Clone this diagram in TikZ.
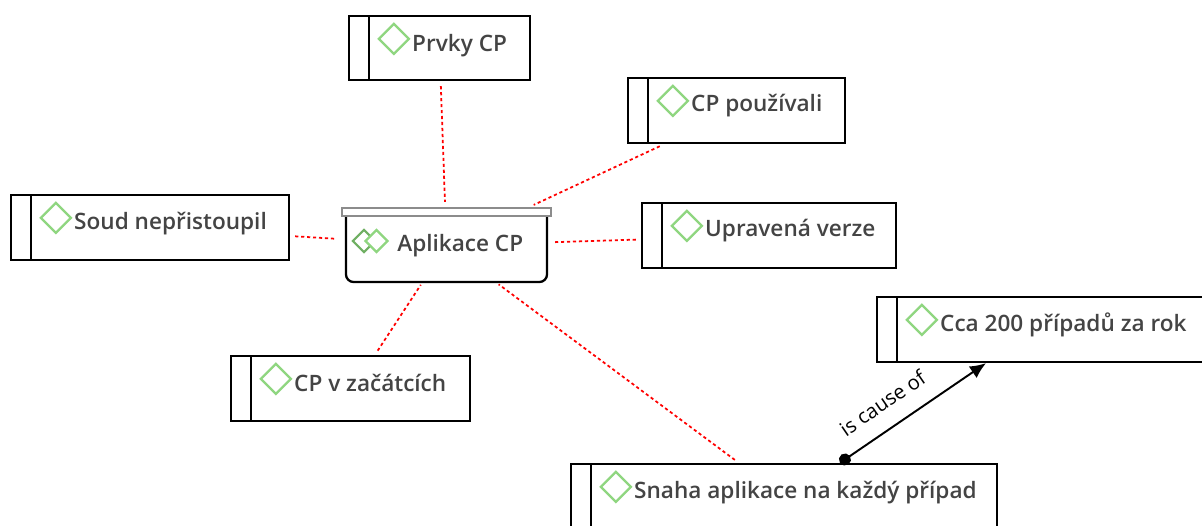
\documentclass[tikz,border=0pt]{standalone}
\usepackage{fontspec}
\setmainfont{Open Sans}
\newfontfamily\conceptfont{Open Sans Semibold}
\usetikzlibrary{arrows.meta,shapes.geometric}

\definecolor{markgreen}{HTML}{8FD680}
\definecolor{markdark}{HTML}{6FAF62}
\definecolor{labelgray}{HTML}{444444}

\tikzset{
  conceptbox/.style={draw=black, line width=1.3pt, fill=white, minimum height=1.3cm, inner sep=0pt,
    path picture={\draw [line width=1.3pt] ([xshift=0.4cm]path picture bounding box.north west) -- ([xshift=0.4cm]path picture bounding box.south west);}},
  conceptmark/.style={diamond, draw=markgreen, line width=1.3pt, fill=white, minimum size=0.62cm, inner sep=0pt},
  conceptlabel/.style={anchor=base west, inner sep=0pt, text=labelgray, font=\fontsize{12.85}{16}\conceptfont},
  linkline/.style={draw=red, line width=1pt, dash pattern=on 1.8pt off 1.6pt, shorten <=0.1cm, shorten >=0.1cm}
}

\begin{document}
\begin{tikzpicture}
\path [use as bounding box, clip] (0,0) rectangle (24.04,10.5);

\node[conceptbox, minimum width=3.62cm, minimum height=1.28cm] (prvky) at (8.79, 9.54) {};
\node[conceptmark] (prvkymark) at ([shift={(0.92,-0.48)}]prvky.north west) {};
\node[conceptlabel] (prvkytext) at ([shift={(1.28,-0.74)}]prvky.north west) {Prvky CP};

\node[conceptbox, minimum width=4.34cm] (pouzivali) at (14.73, 8.29) {};
\node[conceptmark] (pouzivalimark) at ([shift={(0.92,-0.48)}]pouzivali.north west) {};
\node[conceptlabel] (pouzivalitext) at ([shift={(1.28,-0.69)}]pouzivali.north west) {CP používali};

\node[conceptbox, minimum width=5.56cm] (soud) at (3.00, 5.95) {};
\node[conceptmark] (soudmark) at ([shift={(0.92,-0.48)}]soud.north west) {};
\node[conceptlabel] (soudtext) at ([shift={(1.28,-0.71)}]soud.north west) {Soud nepřistoupil};

\node[conceptbox, minimum width=5.08cm] (upravena) at (15.38, 5.79) {};
\node[conceptmark] (upravenamark) at ([shift={(0.92,-0.48)}]upravena.north west) {};
\node[conceptlabel] (upravenatext) at ([shift={(1.28,-0.69)}]upravena.north west) {Upravená verze};

\node[conceptbox, minimum width=4.78cm] (zacatky) at (7.01, 2.73) {};
\node[conceptmark] (zacatkymark) at ([shift={(0.92,-0.48)}]zacatky.north west) {};
\node[conceptlabel] (zacatkytext) at ([shift={(1.28,-0.74)}]zacatky.north west) {CP v začátcích};

\node[conceptbox, minimum width=6.6cm] (pripady) at (20.84, 3.91) {};
\node[conceptmark] (pripadymark) at ([shift={(0.92,-0.48)}]pripady.north west) {};
\node[conceptlabel] (pripadytext) at ([shift={(1.28,-0.72)}]pripady.north west) {Cca 200 případů za rok};

\node[conceptbox, minimum width=8.52cm] (snaha) at (15.68, 0.57) {};
\node[conceptmark] (snahamark) at ([shift={(0.92,-0.48)}]snaha.north west) {};
\node[conceptlabel] (snahatext) at ([shift={(1.28,-0.72)}]snaha.north west) {Snaha aplikace na každý případ};

% central container
\node[draw=black, line width=1.3pt, fill=white, rounded corners=0.15cm, minimum width=4.02cm, minimum height=1.46cm] (aplikace) at (8.93, 5.59) {};
\node[draw=gray!90, line width=1.2pt, fill=white, minimum width=4.18cm, minimum height=0.16cm, inner sep=0pt] (aplikacebar) at (8.93, 6.26) {};
\node[diamond, draw=markdark, line width=1.2pt, minimum size=0.46cm, inner sep=0pt] (aplikaceback) at (7.28, 5.68) {};
\node[conceptmark, minimum size=0.46cm] (aplikacemark) at (7.53, 5.68) {};
\node[conceptlabel] (aplikacetext) at (7.94, 5.48) {Aplikace CP};

\draw [linkline, shorten >=0.12cm] (prvky) -- (aplikace);
\draw [linkline, shorten >=0.14cm] (pouzivali) -- (aplikace);
\draw [linkline, shorten >=0.16cm] (soud) -- (aplikace);
\draw [linkline] (upravena) -- (aplikace);
\draw [linkline, shorten >=0.04cm] (zacatky.54) -- (aplikace);
\draw [linkline, shorten >=0.04cm] (snaha) -- (aplikace);

\draw [{Circle[length=0.24cm]}-{Latex[length=0.32cm, width=0.28cm]}, line width=1.1pt] (snaha.31) -- node[pos=0.39, above=8.5pt, sloped, inner sep=1pt, text=black, font=\fontsize{11.5}{14}\selectfont] (causelabel) {is cause of} (pripady.211);
\end{tikzpicture}
\end{document}
